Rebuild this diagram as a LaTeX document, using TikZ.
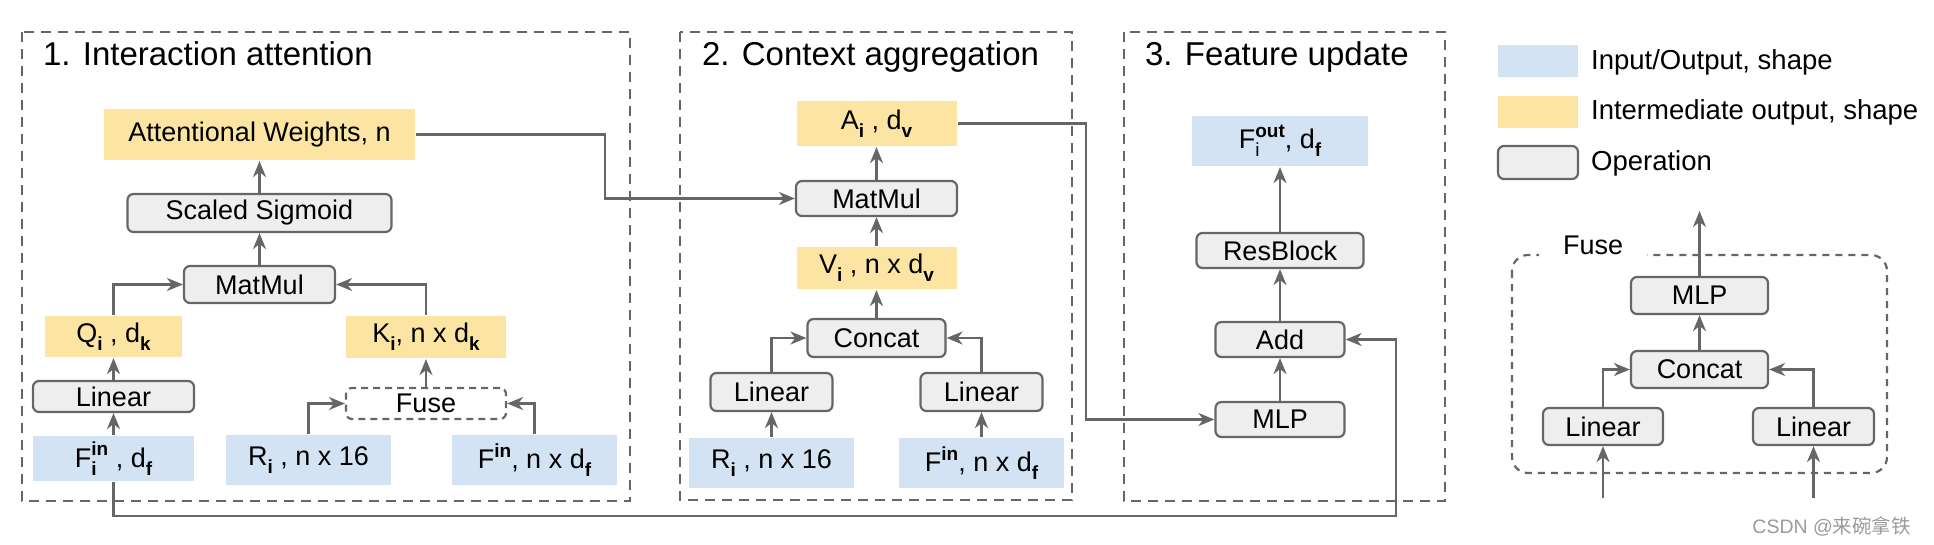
\documentclass[tikz,border=0pt]{standalone}
\usepackage{fontspec}
\setmainfont{Liberation Sans}
\newfontfamily\cjkfont{Noto Sans CJK SC}
\usetikzlibrary{arrows.meta}
\definecolor{ioblue}{HTML}{D4E3F3}
\definecolor{midyellow}{HTML}{FCE5A3}
\definecolor{opgray}{HTML}{EEEEEE}
\definecolor{edgegray}{HTML}{666666}
\definecolor{markgray}{HTML}{9A9A9A}
\newcommand{\tsb}[1]{\raisebox{-0.3em}{\fontsize{19}{20}\selectfont\bfseries #1}}
\newcommand{\tsp}[1]{\raisebox{0.42em}{\fontsize{19}{20}\selectfont\bfseries #1}}
\newcommand{\tsbp}[2]{\rlap{\tsb{#1}}\tsp{#2}}

\begin{document}
\begin{tikzpicture}[x=1pt, y=-1pt, font=\fontsize{27}{32}\selectfont, line width=2.2pt,
  io/.style = {fill=ioblue, inner sep=0pt},
  mid/.style = {fill=midyellow, inner sep=0pt},
  op/.style = {draw=edgegray, fill=opgray, rounded corners=6pt, inner sep=0pt},
  fusebox/.style = {draw=edgegray, fill=white, dash pattern=on 7pt off 5pt, rounded corners=6pt, inner sep=0pt},
  stage/.style = {draw=edgegray, line width=2pt, dash pattern=on 10pt off 7pt},
  title/.style = {anchor=base west, inner sep=0pt, font=\fontsize{33}{40}\selectfont},
  legtext/.style = {anchor=west, inner sep=0pt, font=\fontsize{27.5}{32}\selectfont},
  arr/.style = {draw=edgegray, -{Stealth[length=16pt, width=13pt, inset=5pt]}}]
                \useasboundingbox (0,0) rectangle (1934,544);
                \draw[stage] (22,32) rectangle (630,501);
                \draw[stage] (680,32) rectangle (1072,500);
                \draw[stage] (1124,32) rectangle (1445,501);
                \node[title] (t1) at (42,65) {1. Interaction attention};
                \node[title] (t2) at (701,65) {2. Context aggregation};
                \node[title] (t3) at (1144,65) {3. Feature update};
                \node[mid, minimum width=311pt, minimum height=51pt] (att) at (259.5,134.5) {Attentional Weights, n};
                \node[op, minimum width=264pt, minimum height=38pt] (sig) at (259.5,213) {Scaled Sigmoid};
                \node[op, minimum width=151pt, minimum height=37pt] (mm1) at (259.5,284.5) {MatMul};
                \node[mid, minimum width=137pt, minimum height=41pt] (q) at (113.5,336.5) {Q\tsb{i} , d\tsb{k}};
                \node[mid, minimum width=160pt, minimum height=42pt] (k) at (426,337) {K\tsb{i}, n x d\tsb{k}};
                \node[op, minimum width=161pt, minimum height=31pt] (lin1) at (113.5,396.5) {Linear};
                \node[fusebox, minimum width=160pt, minimum height=31pt] (fuse1) at (426,403.5) {Fuse};
                \node[io, minimum width=161pt, minimum height=45pt] (fin1) at (113.5,458.5) {F\tsbp{i}{in} , d\tsb{f}};
                \node[io, minimum width=165pt, minimum height=50pt] (r1) at (308.5,460) {R\tsb{i} , n x 16};
                \node[io, minimum width=165pt, minimum height=50pt] (fn1) at (534.5,460) {F\tsp{in}, n x d\tsb{f}};
                \node[mid, minimum width=160pt, minimum height=45pt] (a2) at (876.5,123.5) {A\tsb{i} , d\tsb{v}};
                \node[op, minimum width=161pt, minimum height=35pt] (mm2) at (876.5,198.5) {MatMul};
                \node[mid, minimum width=160pt, minimum height=42pt] (v2) at (876.5,268) {V\tsb{i} , n x d\tsb{v}};
                \node[op, minimum width=138pt, minimum height=38pt] (cc2) at (876.5,338) {Concat};
                \node[op, minimum width=122pt, minimum height=38pt] (ll2) at (771.5,392) {Linear};
                \node[op, minimum width=122pt, minimum height=38pt] (lr2) at (981.5,392) {Linear};
                \node[io, minimum width=165pt, minimum height=50pt] (r2) at (771.5,463) {R\tsb{i} , n x 16};
                \node[io, minimum width=165pt, minimum height=50pt] (f2) at (981.5,463) {F\tsp{in}, n x d\tsb{f}};
                \node[io, minimum width=176pt, minimum height=50pt] (fout) at (1280,141) {F\rlap{\raisebox{-0.3em}{\fontsize{19}{20}\selectfont i}}\tsp{out}, d\tsb{f}};
                \node[op, minimum width=167pt, minimum height=35pt] (rb) at (1280,250.5) {ResBlock};
                \node[op, minimum width=129pt, minimum height=35pt] (add) at (1280,339.5) {Add};
                \node[op, minimum width=129pt, minimum height=35pt] (mlp3) at (1280,419.5) {MLP};
                \node[io, minimum width=80pt, minimum height=32pt] (lgio) at (1538,61) {};
                \node[mid, minimum width=80pt, minimum height=32pt] (lgmid) at (1538,112) {};
                \node[op, minimum width=80pt, minimum height=33pt] (lgop) at (1538,162.5) {};
                \node[legtext] (lgiot) at (1590,62) {Input/Output, shape};
                \node[legtext] (lgmidt) at (1590,112) {Intermediate output, shape};
                \node[legtext] (lgopt) at (1590,163) {Operation};
                \draw[draw=edgegray, dash pattern=on 7pt off 6pt, rounded corners=16pt] (1512,255) rectangle (1887,473);
                \node[fill=white, inner xsep=24pt, minimum height=28pt] (fusel) at (1593,245) {Fuse};
                \node[op, minimum width=137pt, minimum height=37pt] (fmlp) at (1699.5,295.5) {MLP};
                \node[op, minimum width=137pt, minimum height=37pt] (fcc) at (1699.5,369.5) {Concat};
                \node[op, minimum width=120pt, minimum height=37pt] (fll) at (1603,426.5) {Linear};
                \node[op, minimum width=121pt, minimum height=37pt] (flr) at (1813.5,426.5) {Linear};
                \coordinate (fout1) at (1699.5,211);
                \coordinate (fin2) at (1603,498);
                \coordinate (fin3) at (1813.5,498);
                \node[text=markgray, font=\fontsize{19.5}{22}\selectfont, inner sep=0pt, anchor=east] (mark) at (1912,526) {CSDN @{\cjkfont 来碗拿铁}};
                \coordinate (bend1) at (605,0);
                \coordinate (bend2) at (1086,0);
                \coordinate (bend3) at (1396,516);
                \draw[arr] (fin1) -- (lin1);
                \draw[arr] (lin1) -- (q);
                \draw[arr] (q.north) |- (mm1.west);
                \draw[arr] (k.north) |- (mm1.east);
                \draw[arr] (r1.north) |- (fuse1.west);
                \draw[arr] (fn1.north) |- (fuse1.east);
                \draw[arr] (fuse1) -- (k);
                \draw[arr] (mm1) -- (sig);
                \draw[arr] (sig) -- (att);
                \draw[arr] (att.east) -| (bend1 |- mm2.west) -- (mm2.west);
                \draw[arr] (r2) -- (ll2);
                \draw[arr] (f2) -- (lr2);
                \draw[arr] (ll2.north) |- (cc2.west);
                \draw[arr] (lr2.north) |- (cc2.east);
                \draw[arr] (cc2) -- (v2);
                \draw[arr] (v2) -- (mm2);
                \draw[arr] (mm2) -- (a2);
                \draw[arr] (a2.east) -| (bend2 |- mlp3.west) -- (mlp3.west);
                \draw[arr] (mlp3) -- (add);
                \draw[arr] (add) -- (rb);
                \draw[arr] (rb) -- (fout);
                \draw[arr] (fin1.south) |- (bend3) |- (add.east);
                \draw[arr] (fin2) -- (fll);
                \draw[arr] (fin3) -- (flr);
                \draw[arr] (fll.north) |- (fcc.west);
                \draw[arr] (flr.north) |- (fcc.east);
                \draw[arr] (fcc) -- (fmlp);
                \draw[arr] (fmlp) -- (fout1);
            \end{tikzpicture}
\end{document}
